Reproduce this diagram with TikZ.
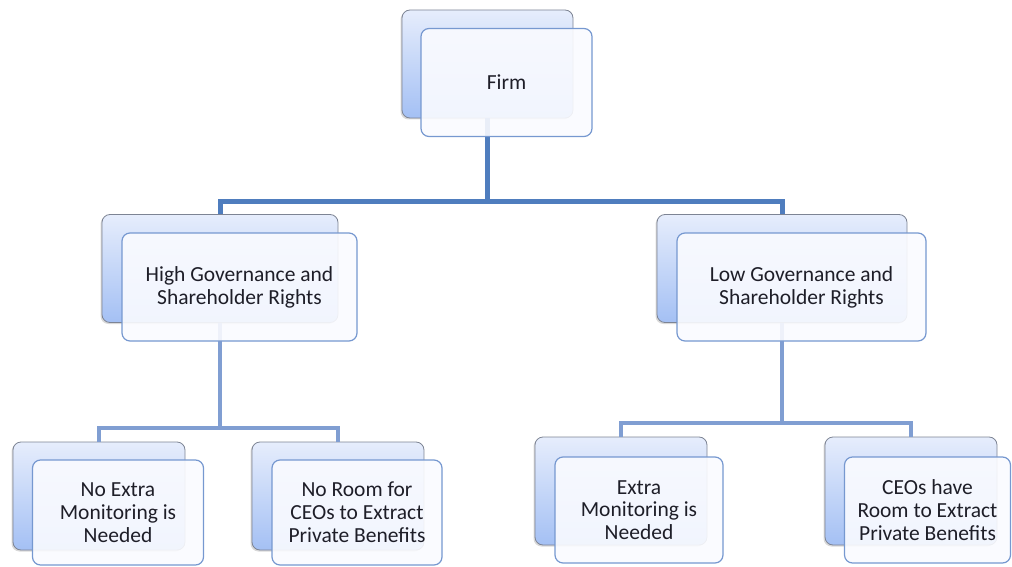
\documentclass[tikz,border=0pt]{standalone}
\usepackage{fontspec}
\setmainfont{Carlito}
\usetikzlibrary{positioning,shadows}

\definecolor{boxtop}{RGB}{230,237,252}
\definecolor{boxbot}{RGB}{164,192,244}
\definecolor{backline}{RGB}{125,132,148}
\definecolor{frontline}{RGB}{118,152,208}
\definecolor{frontfill}{RGB}{250,251,255}
\definecolor{linkdark}{RGB}{79,125,190}
\definecolor{linklight}{RGB}{128,158,210}
\definecolor{labeltext}{RGB}{30,30,40}

\tikzset{
	backbox/.style = {draw = backline, line width = 0.8pt, rounded corners = 8pt,
		top color = boxtop, bottom color = boxbot, minimum height = 108pt,
		drop shadow = {shadow xshift = -1.5pt, shadow yshift = -1.5pt, opacity = 0.3}},
	frontbox/.style = {draw = frontline, line width = 1.2pt, rounded corners = 8pt,
		fill = frontfill, fill opacity = 0.9, text opacity = 1, text = labeltext,
		minimum height = 108pt, align = center,
		font = \fontsize{21.5}{22.8}\selectfont},
	mainlink/.style = {draw = linkdark, line width = 5pt},
	sublink/.style = {draw = linklight, line width = 4.5pt},
}

\begin{document}
\begin{tikzpicture}[x = 1pt, y = -1pt]
	\useasboundingbox (0,0) rectangle (1012,567);
	
	% back boxes
	\node[backbox, minimum width = 171pt] (firmB) at (487.5,64) {};
	\node[backbox, minimum width = 236pt] (highB) at (220,268.5) {};
	\node[backbox, minimum width = 250pt] (lowB) at (782,268.5) {};
	\node[backbox, minimum width = 172pt] (noextraB) at (99,496) {};
	\node[backbox, minimum width = 172pt] (noroomB) at (338,496) {};
	\node[backbox, minimum width = 172pt] (extraB) at (621,491) {};
	\node[backbox, minimum width = 172pt] (roomB) at (911,491) {};
	
	% connectors
	\coordinate (firmJ) at (487.5,201);
	\coordinate (highJ) at (220,428);
	\coordinate (lowJ) at (782,423);
	\draw[mainlink] (firmB.south) -- (firmJ) -| (highB.north);
	\draw[mainlink] (firmJ) -| (lowB.north);
	\draw[sublink] (highB.south) -- (highJ) -| (noextraB.north);
	\draw[sublink] (highJ) -| (noroomB.north);
	\draw[sublink] (lowB.south) -- (lowJ) -| (extraB.north);
	\draw[sublink] (lowJ) -| (roomB.north);
	
	% front boxes
	\node[frontbox, minimum width = 171pt] (firm) at ([shift={(19,18.5)}]firmB.center) {Firm};
	\node[frontbox, minimum width = 235pt] (high) at ([shift={(19.5,18.5)}]highB.center) {High Governance and\\Shareholder Rights};
	\node[frontbox, minimum width = 249pt] (low) at ([shift={(19.5,18.5)}]lowB.center) {Low Governance and\\Shareholder Rights};
	\node[frontbox, minimum width = 171pt, minimum height = 105pt] (noextra) at ([shift={(19,16.5)}]noextraB.center) {No Extra\\Monitoring is\\Needed};
	\node[frontbox, minimum width = 170pt, minimum height = 105pt] (noroom) at ([shift={(19,16.5)}]noroomB.center) {No Room for\\CEOs to Extract\\Private Benefits};
	\node[frontbox, minimum width = 168pt, minimum height = 106pt] (extra) at ([shift={(18,19)}]extraB.center) {Extra\\Monitoring is\\Needed};
	\node[frontbox, minimum width = 166pt, minimum height = 106pt] (room) at ([shift={(16.5,19)}]roomB.center) {CEOs have\\Room to Extract\\Private Benefits};
	
\end{tikzpicture}
\end{document}
